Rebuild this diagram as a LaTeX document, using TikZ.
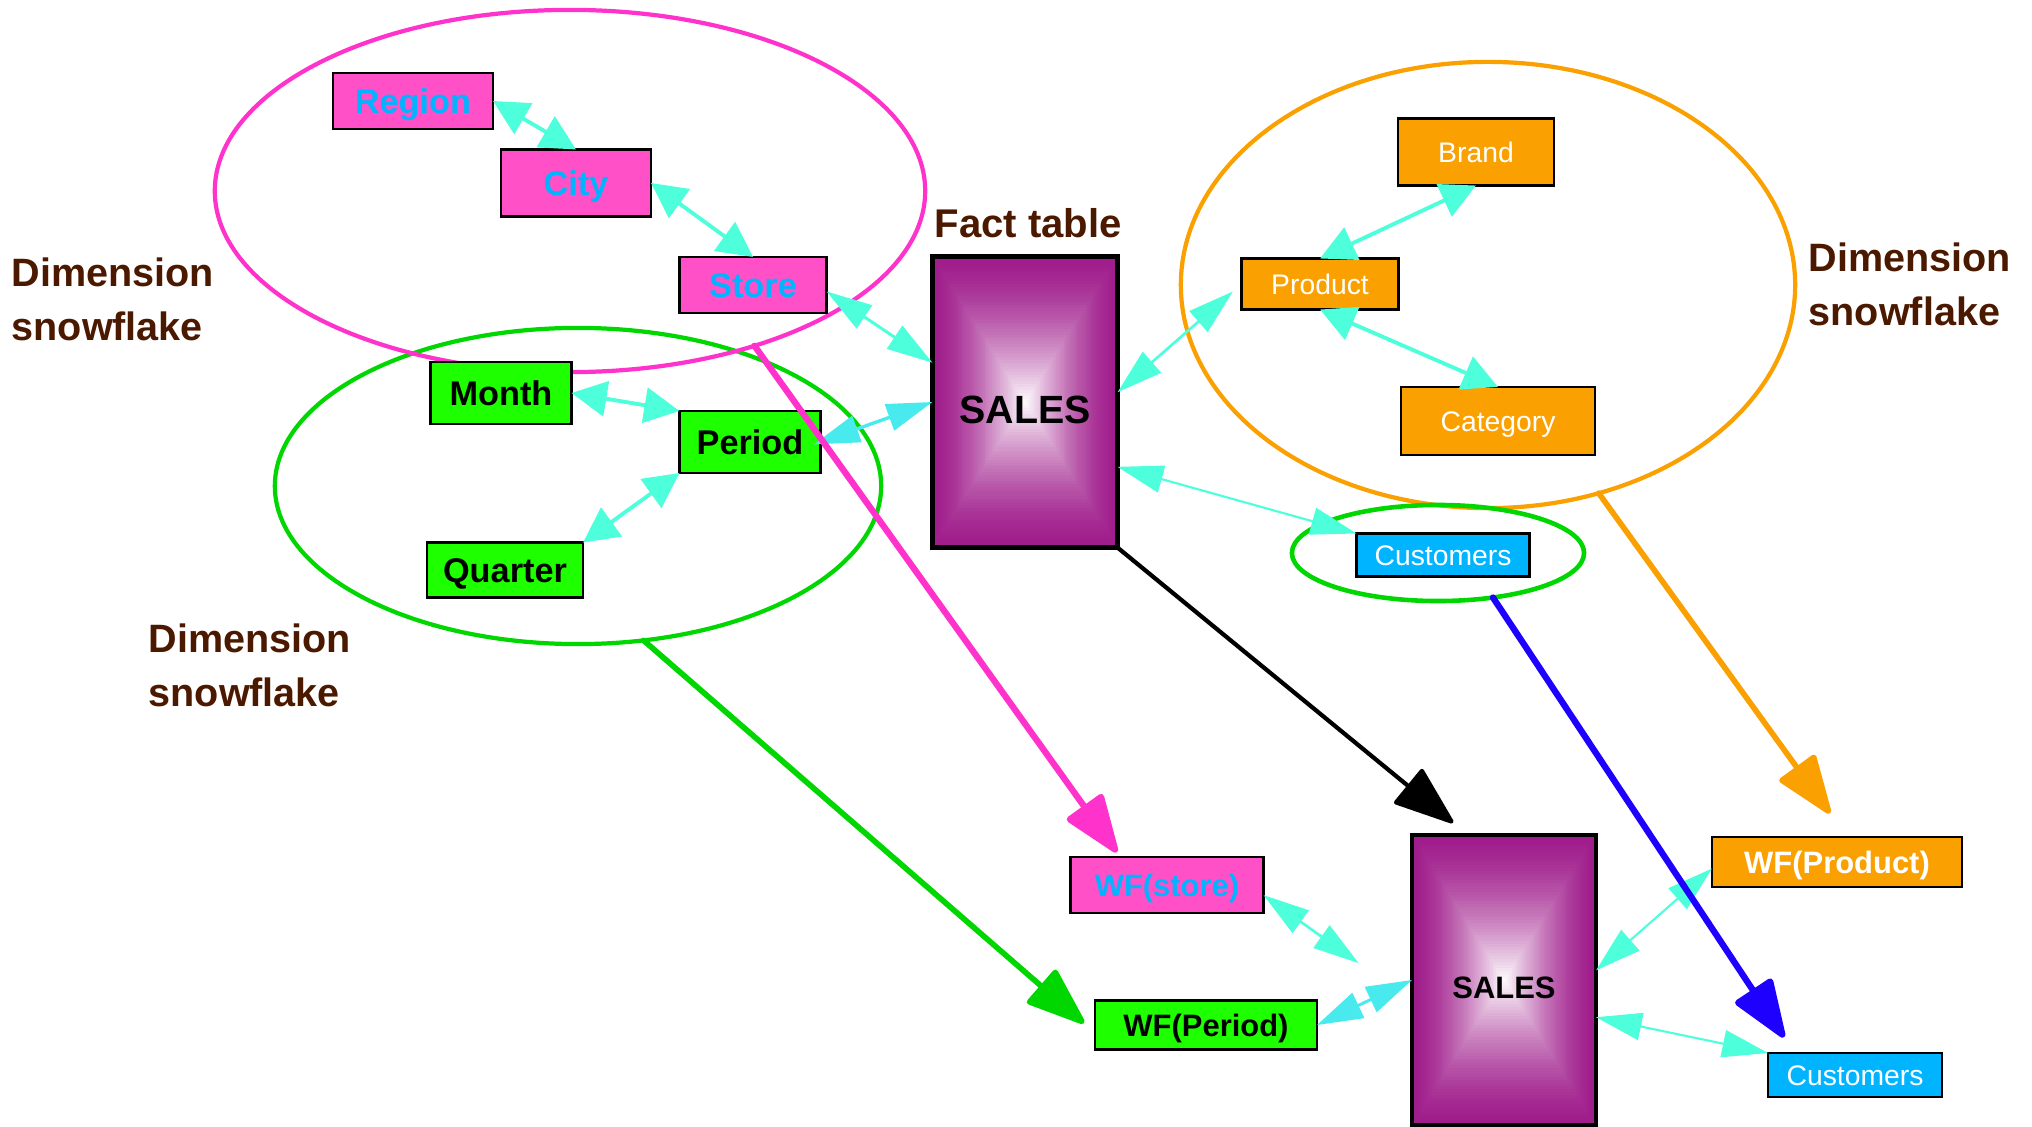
\documentclass[tikz,border=0pt]{standalone}
\usepackage{fontspec}
\setmainfont{Liberation Sans}
\usetikzlibrary{arrows.meta,shapes.geometric,calc}

\definecolor{pinkfill}{RGB}{255,80,200}
\definecolor{pinkline}{RGB}{255,51,204}
\definecolor{skyblue}{RGB}{0,180,255}
\definecolor{limefill}{RGB}{30,255,0}
\definecolor{greenline}{RGB}{0,215,0}
\definecolor{orangefill}{RGB}{250,160,0}
\definecolor{aqua}{RGB}{77,255,219}
\definecolor{aquacyan}{RGB}{72,234,238}
\definecolor{deepblue}{RGB}{30,0,255}
\definecolor{labelbrown}{RGB}{75,25,0}
\definecolor{salespurple}{RGB}{160,30,140}

\tikzset{
  box/.style={rectangle, draw=black, line width=0.7pt, inner sep=0pt, outer sep=0pt},
  boldtxt/.style={font=\bfseries\fontsize{9.75}{11}\selectfont, text height=6.98pt, text depth=0pt},
  wftxt/.style={font=\bfseries\fontsize{8.8}{10}\selectfont, text height=6.3pt, text depth=0pt},
  plaintxt/.style={font=\fontsize{8.05}{9}\selectfont, text height=5.76pt, text depth=0pt},
  pinkbox/.style={box, fill=pinkfill, text=skyblue},
  greenbox/.style={box, fill=limefill, text=black},
  orangebox/.style={box, fill=orangefill, text=white},
  custbox/.style={box, fill=skyblue, text=white, plaintxt},
  group/.style={ellipse, inner sep=0pt, outer sep=0pt, line width=1.2pt},
  caption/.style={font=\bfseries\fontsize{11.25}{15.4}\selectfont, text=labelbrown, align=left, inner sep=0pt},
  salesnode/.style={draw=black, line width=1.3pt, inner sep=0pt, outer sep=0pt, text=black,
    path picture={
      \foreach \gk in {0,...,47}{
        \pgfmathsetmacro{\gf}{\gk/48}
        \pgfmathsetmacro{\gs}{1-\gf}
        \pgfmathtruncatemacro{\gw}{100*\gf*sqrt(\gf)}
        \fill[white!\gw!salespurple]
          ($(path picture bounding box.center)!\gs!(path picture bounding box.south west)$)
          rectangle
          ($(path picture bounding box.center)!\gs!(path picture bounding box.north east)$);
      }
    }},
  fatlink/.style={draw=aqua, line width=1.1pt,
    arrows={Triangle[length=10pt,width=10pt]-Triangle[length=10pt,width=10pt]}},
  thinlink/.style={draw=aqua, line width=0.75pt,
    arrows={Triangle[length=13pt,width=7.8pt]-Triangle[length=13pt,width=7.8pt]}},
  bigarrow/.style={line width=1.6pt, line cap=round,
    arrows={-Triangle[length=18pt,width=13pt,round]}}
}

\begin{document}
\begin{tikzpicture}[x=0.01cm, y=-0.01cm]
\useasboundingbox (0,0) rectangle (2032,1127);

% snowflake outlines
\node[group, draw=greenline, minimum width=6.06cm, minimum height=3.16cm] (periodgroup) at (578,486) {};
\node[group, draw=pinkline, minimum width=7.1cm, minimum height=3.62cm] (storegroup) at (570,191) {};
\node[group, draw=orangefill, minimum width=6.14cm, minimum height=4.46cm] (productgroup) at (1488,285) {};
\node[group, draw=greenline, line width=1.3pt, minimum width=2.92cm, minimum height=0.96cm] (custgroup) at (1438,553) {};

% store dimension
\node[pinkbox, boldtxt, minimum width=1.6cm, minimum height=0.56cm] (region) at (413,101) {Region};
\node[pinkbox, boldtxt, minimum width=1.5cm, minimum height=0.67cm] (city) at (576,183) {City};
\node[pinkbox, boldtxt, minimum width=1.47cm, minimum height=0.56cm] (store) at (753,285) {Store};

% period dimension
\node[greenbox, boldtxt, minimum width=1.41cm, minimum height=0.62cm] (month) at (501,393) {Month};
\node[greenbox, boldtxt, minimum width=1.41cm, minimum height=0.62cm] (period) at (750,442) {Period};
\node[greenbox, boldtxt, minimum width=1.56cm, minimum height=0.55cm] (quarter) at (505,570) {Quarter};

% product dimension
\node[orangebox, plaintxt, minimum width=1.57cm, minimum height=0.51cm] (product) at (1320,284) {Product};
\node[orangebox, plaintxt, minimum width=1.56cm, minimum height=0.67cm] (brand) at (1476,152) {Brand};
\node[orangebox, plaintxt, minimum width=1.94cm, minimum height=0.68cm] (category) at (1498,421) {Category};

\node[custbox, minimum width=1.73cm, minimum height=0.43cm] (cust) at (1443,555) {Customers};

% fact tables
\node[salesnode, minimum width=1.85cm, minimum height=2.91cm,
      font=\bfseries\fontsize{11.2}{13}\selectfont, text height=11.95pt, text depth=0pt] (sales) at (1025,402) {SALES};
\node[salesnode, minimum width=1.84cm, minimum height=2.90cm,
      font=\bfseries\fontsize{8.8}{10}\selectfont, text height=10.3pt, text depth=0pt] (salesb) at (1504,980) {SALES};

% flattened dimensions
\node[pinkbox, wftxt, minimum width=1.93cm, minimum height=0.56cm] (wfstore) at (1167,885) {WF(store)};
\node[greenbox, wftxt, minimum width=2.22cm, minimum height=0.49cm] (wfperiod) at (1206,1025) {WF(Period)};
\node[orangebox, wftxt, minimum width=2.5cm, minimum height=0.5cm] (wfproduct) at (1837,862) {WF(Product)};
\node[custbox, minimum width=1.74cm, minimum height=0.44cm] (custb) at (1855,1075) {Customers};

% captions
\node[caption, anchor=north west] (capstore) at (11,257) {Dimension\\snowflake};
\node[caption, anchor=north west] (capperiod) at (148,623) {Dimension\\snowflake};
\node[caption, anchor=north west] (capproduct) at (1808,242) {Dimension\\snowflake};
\node[caption, font=\bfseries\fontsize{11.4}{13}\selectfont, anchor=base west] (capfact) at (934,237) {Fact table};

% links inside the snowflakes
\draw[fatlink] (region.east) -- (city.north);
\draw[fatlink] (city.east) -- (store.north);
\draw[fatlink] (month.east) -- (period.north west);
\draw[fatlink] (quarter.north east) -- (period.south west);
\draw[fatlink] (product.north) -- (brand.south);
\draw[fatlink] (product.south) -- (category.north);

% links to the fact tables
\draw[thinlink, line width=0.85pt] (store.-5) -- (sales.157);
\draw[thinlink, draw=aquacyan, line width=0.95pt, shorten <=-0.07cm] (period.east) -- (sales.west);
\draw[thinlink, shorten >=0.114cm] (sales.6) -- (product.west);
\draw[thinlink, line width=0.6pt] (sales.-35) -- (cust.north west);
\draw[thinlink, shorten >=0.655cm] (wfstore.-6) -- (salesb.193);
\draw[thinlink, draw=aquacyan, line width=0.85pt] (wfperiod.east) -- (salesb.west);
\draw[thinlink, line width=0.6pt] (wfproduct.183) -- (salesb.6);
\draw[thinlink, line width=0.6pt] (custb.north west) -- (salesb.-22);

% flattening arrows
\draw[bigarrow, draw=pinkline, fill=pinkline, line width=1.8pt, shorten >=0.06cm] (storegroup.-40) -- (wfstore.149);
\draw[bigarrow, draw=greenline, fill=greenline, shorten >=0.145cm] (periodgroup.-67) -- (wfperiod.184);
\draw[bigarrow, draw=black, fill=black, line width=1.2pt, shorten >=0.19cm] (sales.south east) -- (salesb.104);
\draw[bigarrow, draw=orangefill, fill=orangefill, shorten >=0.29cm] (productgroup.-62) -- (wfproduct.68);
\draw[bigarrow, draw=deepblue, fill=deepblue, line width=1.8pt, shorten >=0.19cm] (custgroup.-39) -- (custb.160);
\end{tikzpicture}
\end{document}
